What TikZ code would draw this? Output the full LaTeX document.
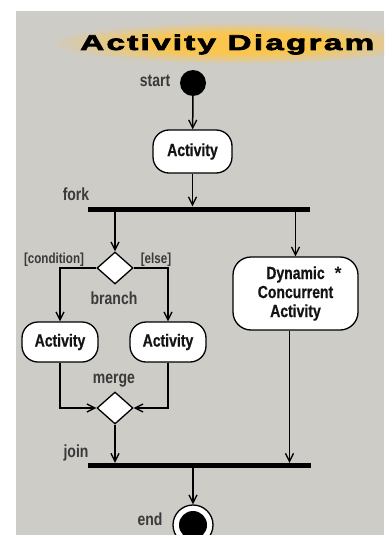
\documentclass[tikz,border=0pt]{standalone}
\usepackage{fontspec}
\usepackage{graphicx}
\usetikzlibrary{arrows.meta,shapes.geometric}
\setmainfont{Liberation Sans}
\newfontfamily\condfont[FakeStretch=0.8]{Liberation Sans}
\newfontfamily\heavycond[FakeStretch=0.8,FakeBold=0.6]{Liberation Sans}
\newfontfamily\headfont[FakeStretch=1.35,FakeBold=3.2,LetterSpace=9]{Liberation Sans}

\definecolor{panel}{RGB}{206,204,199}
\definecolor{glow}{RGB}{250,198,78}
\definecolor{labelgray}{RGB}{58,58,58}
\definecolor{ink}{RGB}{20,20,20}

% soft golden halo behind the heading
\pgfdeclareradialshading{halo}{\pgfpoint{0bp}{0bp}}{%
  color(0bp)=(glow); color(12bp)=(glow); color(25bp)=(panel); color(50bp)=(panel)}

\tikzset{
  wire/.style={line width=1.5pt, draw=black},
  flow/.style={wire, -{Straight Barb[length=8pt,width=8pt,line width=1.3pt]}},
  actbox/.style={draw=black, line width=1.3pt, fill=white, rounded corners=16pt,
    inner sep=0pt, text=ink, font=\heavycond\bfseries\fontsize{17.5}{19}\selectfont},
  syncbar/.style={fill=black, inner sep=0pt, minimum height=5pt},
  decision/.style={diamond, draw=black, line width=1.3pt, fill=white, inner sep=0pt,
    minimum width=36pt, minimum height=32pt},
  tag/.style={inner sep=0pt, text=labelgray, font=\condfont\bfseries\fontsize{17.5}{19}\selectfont},
  guard/.style={inner sep=0pt, text=labelgray, font=\condfont\bfseries\fontsize{14.5}{16}\selectfont},
}

\begin{document}
\begin{tikzpicture}[x=1pt,y=-1pt]
  \clip (0,0) rectangle (384,535);
  \fill[white] (0,0) rectangle (384,535);
  \fill[panel] (16,11) rectangle (384,535);

  % heading
  \shade[shading=halo] (240,43) ellipse (190 and 21);
  \node[anchor=base west, inner sep=0pt, text=black] (title) at (80,50)
    {\resizebox{294pt}{15.5pt}{\headfont\bfseries Activity Diagram}};

  % nodes
  \node[circle, fill=black, minimum size=26pt, inner sep=0pt] (start) at (193,83) {};
  \node[actbox, minimum width=79pt, minimum height=43pt] (act) at (192.5,151.5) {Activity};
  \node[syncbar, minimum width=222pt] (fork) at (199,209) {};
  \node[decision] (branch) at (115,268) {};
  \node[actbox, minimum width=76pt, minimum height=40pt] (actL) at (60,342) {Activity};
  \node[actbox, minimum width=76pt, minimum height=40pt] (actR) at (168,342) {Activity};
  \node[actbox, minimum width=125pt, minimum height=73pt, rounded corners=18pt,
        align=center] (dyn) at (295.5,293.5) {Dynamic\\Concurrent\\Activity};
  \node[inner sep=0pt, text=ink, font=\bfseries\fontsize{18}{18}\selectfont] (star) at (338,273) {*};
  \node[decision] (merge) at (115,408) {};
  \node[syncbar, minimum width=223pt] (join) at (199.5,465.5) {};
  \node[circle, draw=black, line width=1.3pt, fill=white, minimum size=40pt, inner sep=0pt] (final) at (193,525) {};
  \node[circle, fill=black, minimum size=28pt, inner sep=0pt] (finalcore) at (final.center) {};

  % labels
  \node[tag] (lstart) at (155,81) {start};
  \node[tag] (lfork) at (76,194) {fork};
  \node[guard] (lcond) at (54,260) {[condition]};
  \node[guard] (lelse) at (156,260) {[else]};
  \node[tag] (lbranch) at (114,298) {branch};
  \node[tag] (lmerge) at (114,381) {merge};
  \node[tag] (ljoin) at (76,453) {join};
  \node[tag] (lend) at (150,519) {end};

  % connectors
  \draw[flow] (start) -- (act);
  \draw[flow] (act) -- (act |- fork.north);
  \draw[flow] (branch |- fork.south) -- (branch);
  \draw[flow] (dyn |- fork.south) -- (dyn);
  \draw[flow] (branch.west) -| (actL);
  \draw[flow] (branch.east) -| (actR);
  \draw[flow] (actL) |- (merge.west);
  \draw[flow] (actR) |- (merge.east);
  \draw[flow] (merge) -- (merge |- join.north);
  \draw[flow] ([xshift=-6pt]dyn.south) -- ([xshift=-6pt]dyn.south |- join.north);
  \draw[flow] (join.south -| final) -- (final);
\end{tikzpicture}
\end{document}
